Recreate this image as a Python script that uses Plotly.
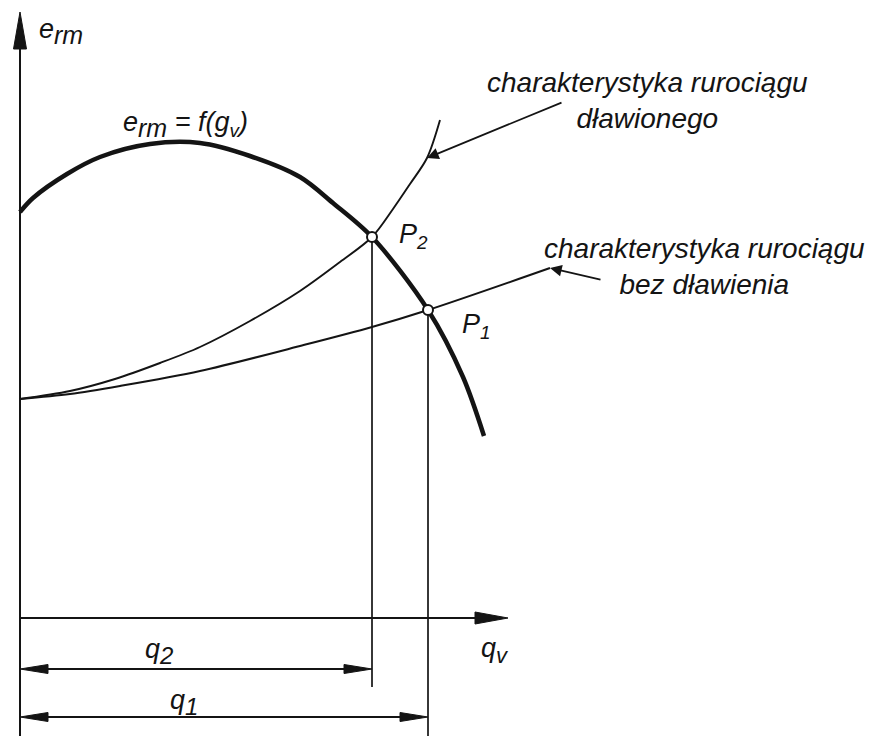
import plotly.graph_objects as go

# Pump characteristic e_rm = f(q_v) (head vs. flow), read as points along the curve
pump_q = [0.00, 0.13, 0.47, 0.80, 1.30, 1.80, 2.30, 2.80, 3.13, 3.52, 4.08, 4.43, 4.64]
pump_e = [4.06, 4.20, 4.44, 4.61, 4.74, 4.75, 4.62, 4.41, 4.15, 3.81, 3.08, 2.41, 1.82]

# Pipeline characteristic with throttling
thr_q = [0.00, 0.50, 0.95, 1.40, 1.80, 2.30, 2.80, 3.20, 3.52, 3.73, 3.90, 4.07, 4.20]
thr_e = [2.19, 2.27, 2.39, 2.55, 2.71, 2.97, 3.27, 3.56, 3.81, 4.09, 4.34, 4.60, 4.98]

# Pipeline characteristic without throttling
free_q = [0.00, 0.50, 1.00, 1.80, 2.80, 3.52, 4.08, 5.30]
free_e = [2.19, 2.24, 2.32, 2.47, 2.72, 2.91, 3.08, 3.50]

# Operating points
op_names = ["P<sub>1</sub>", "P<sub>2</sub>"]
op_q = [4.08, 3.52]
op_e = [3.08, 3.81]
flow_labels = ["1", "2"]

X_RANGE = [-0.20, 8.55]
Y_RANGE = [-1.18, 6.18]

INK = "#141414"
FONT = "Liberation Sans, Arial, Helvetica, sans-serif"
FS = 27          # labels on the diagram
FS_NOTE = 28     # descriptive notes

fig = go.Figure()


def line(xs, ys, width=1.9, shape="linear"):
    fig.add_trace(go.Scatter(x=xs, y=ys, mode="lines",
                             line=dict(color=INK, width=width, shape=shape,
                                       smoothing=0.9 if shape == "spline" else None),
                             hoverinfo="skip", showlegend=False))


def head(tip_x, tip_y, dx, dy, length, half):
    """Filled slender arrowhead pointing along (dx, dy) with its tip at (tip_x, tip_y)."""
    bx, by = tip_x - dx * length, tip_y - dy * length
    px, py = -dy * half, dx * half
    fig.add_trace(go.Scatter(x=[tip_x, bx + px, bx - px, tip_x],
                             y=[tip_y, by + py, by - py, tip_y],
                             mode="lines", fill="toself", fillcolor=INK,
                             line=dict(color=INK, width=1),
                             hoverinfo="skip", showlegend=False))


# Coordinate axes
y_tip = 6.06
x_tip = 4.88
line([0, 0], [Y_RANGE[0], y_tip - 0.2], 2.0)
head(0, y_tip, 0, 1, 0.37, 0.065)
line([0, x_tip - 0.2], [0, 0], 2.0)
head(x_tip, 0, 1, 0, 0.33, 0.06)

# Projection lines from the operating points down to the dimension lines
p1_q, p2_q = op_q
p1_e, p2_e = op_e
dim_e = {"q1": -0.99, "q2": -0.51}
line([p2_q, p2_q], [p2_e, dim_e["q2"] - 0.18], 1.7)
line([p1_q, p1_q], [p1_e, Y_RANGE[0]], 1.7)

# Dimension arrows for q2 and q1
for q_end, e_lvl in [(p2_q, dim_e["q2"]), (p1_q, dim_e["q1"])]:
    line([0.1, q_end - 0.1], [e_lvl, e_lvl], 1.9)
    head(0, e_lvl, -1, 0, 0.28, 0.045)
    head(q_end, e_lvl, 1, 0, 0.28, 0.045)

# Pipeline characteristics
line(free_q, free_e, 2.0, "spline")
line(thr_q, thr_e, 1.9, "spline")

# Pump characteristic (heavy line)
line(pump_q, pump_e, 4.5, "spline")

# Operating points as open circles
fig.add_trace(go.Scatter(x=op_q, y=op_e, mode="markers",
                         marker=dict(size=10, color="white", line=dict(color=INK, width=2)),
                         hoverinfo="skip", showlegend=False))


def sub(txt, px):
    return '<sub><span style="font-size:%dpx">%s</span></sub>' % (px, txt)


def label(x, y, text, size=FS):
    fig.add_annotation(x=x, y=y, xref="x", yref="y", text=text, showarrow=False,
                       font=dict(family=FONT, size=size, color=INK),
                       xanchor="center", yanchor="middle", align="center")


label(0.41, 5.87, "<i>e%s</i>" % sub("rm", 25))
label(1.65, 4.94, "<i>e%s = f(g<sub>v</sub>)</i>" % sub("rm", 25))
label(op_q[1] + 0.41, op_e[1] + 0.01, "<i>%s</i>" % op_names[1])
label(op_q[0] + 0.48, op_e[0] - 0.16, "<i>%s</i>" % op_names[0])
label(1.39, -0.33, "<i>q%s</i>" % sub(flow_labels[1], 24))
label(1.64, -0.84, "<i>q%s</i>" % sub(flow_labels[0], 24))
label(4.75, -0.32, "<i>q%s</i>" % sub("v", 22))
label(6.27, 5.18, "<i>charakterystyka rurociągu<br>dławionego</i>", FS_NOTE)
label(6.84, 3.52, "<i>charakterystyka rurociągu<br>bez dławienia</i>", FS_NOTE)

# Leader arrows pointing to the pipeline characteristics
for tail, tip in [((5.43, 5.16), (thr_q[-2], thr_e[-2])),
                  ((5.82, 3.38), (free_q[-1], free_e[-1]))]:
    fig.add_annotation(x=tip[0], y=tip[1], ax=tail[0], ay=tail[1],
                       xref="x", yref="y", axref="x", ayref="y",
                       text="", showarrow=True, arrowhead=2, arrowsize=1.3,
                       arrowwidth=1.8, arrowcolor=INK, standoff=0)

fig.update_xaxes(range=X_RANGE, visible=False, fixedrange=True)
fig.update_yaxes(range=Y_RANGE, visible=False, fixedrange=True)
fig.update_layout(width=875, height=736, margin=dict(l=0, r=0, t=0, b=0),
                  paper_bgcolor="white", plot_bgcolor="white", showlegend=False)

fig.write_html("out.html")
